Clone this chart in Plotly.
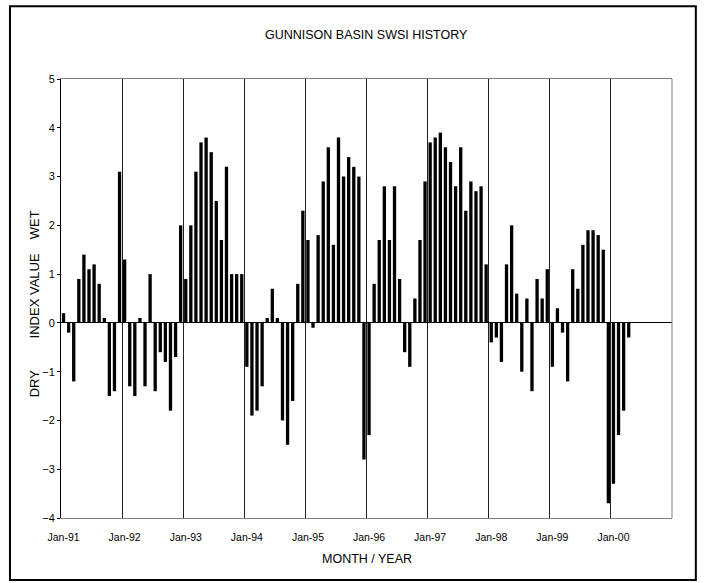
import plotly.graph_objects as go

# Gunnison Basin SWSI, monthly values Jan-91 .. Apr-00
swsi_1991 = [0.2, -0.2, -1.2, 0.9, 1.4, 1.1, 1.2, 0.8, 0.1, -1.5, -1.4, 3.1]
swsi_1992 = [1.3, -1.3, -1.5, 0.1, -1.3, 1.0, -1.4, -0.6, -0.8, -1.8, -0.7, 2.0]
swsi_1993 = [0.9, 2.0, 3.1, 3.7, 3.8, 3.5, 2.5, 1.7, 3.2, 1.0, 1.0, 1.0]
swsi_1994 = [-0.9, -1.9, -1.8, -1.3, 0.1, 0.7, 0.1, -2.0, -2.5, -1.6, 0.8, 2.3]
swsi_1995 = [1.7, -0.1, 1.8, 2.9, 3.6, 1.6, 3.8, 3.0, 3.4, 3.2, 3.0, -2.8]
swsi_1996 = [-2.3, 0.8, 1.7, 2.8, 1.7, 2.8, 0.9, -0.6, -0.9, 0.5, 1.7, 2.9]
swsi_1997 = [3.7, 3.8, 3.9, 3.6, 3.3, 2.8, 3.6, 2.3, 2.9, 2.7, 2.8, 1.2]
swsi_1998 = [-0.4, -0.3, -0.8, 1.2, 2.0, 0.6, -1.0, 0.5, -1.4, 0.9, 0.5, 1.1]
swsi_1999 = [-0.9, 0.3, -0.2, -1.2, 1.1, 0.7, 1.6, 1.9, 1.9, 1.8, 1.5, -3.7]
swsi_2000 = [-3.3, -2.3, -1.8, -0.3]

year_labels = ["Jan-91", "Jan-92", "Jan-93", "Jan-94", "Jan-95",
               "Jan-96", "Jan-97", "Jan-98", "Jan-99", "Jan-00"]
y_ticks = [-4, -3, -2, -1, 0, 1, 2, 3, 4, 5]

values = (swsi_1991 + swsi_1992 + swsi_1993 + swsi_1994 + swsi_1995
          + swsi_1996 + swsi_1997 + swsi_1998 + swsi_1999 + swsi_2000)
months = list(range(len(values)))
n_slots = 12 * len(year_labels)

FONT = "Liberation Sans, Arial, sans-serif"

fig = go.Figure()
fig.add_trace(go.Bar(
    x=months,
    y=values,
    marker=dict(color="black", line=dict(width=0)),
    showlegend=False,
))

fig.update_layout(
    width=706,
    height=583,
    margin=dict(l=61, r=34, t=79, b=65),
    plot_bgcolor="white",
    paper_bgcolor="white",
    bargap=0.35,
    font=dict(family=FONT, size=11, color="black"),
)

fig.update_xaxes(
    range=[-0.5, n_slots - 0.5],
    tickmode="array",
    tickvals=[12 * i for i in range(len(year_labels))],
    ticktext=year_labels,
    ticks="",
    ticklabelstandoff=9,
    showgrid=False,
    zeroline=False,
    showline=True,
    linecolor="#808080",
    mirror=True,
    tickfont=dict(family=FONT, size=10.5),
    minor=dict(tickmode="linear", tick0=-0.5, dtick=12, showgrid=True,
               gridcolor="#202020", gridwidth=1, ticks=""),
)

fig.update_yaxes(
    range=[-4, 5],
    tickmode="array",
    tickvals=y_ticks,
    ticks="outside",
    ticklen=3,
    tickcolor="black",
    showgrid=False,
    zeroline=True,
    zerolinecolor="black",
    zerolinewidth=1,
    showline=True,
    linecolor="black",
    tickfont=dict(family=FONT, size=11),
)

# right border of plot area (gray), outer chart frame
fig.add_shape(type="line", xref="paper", yref="paper", x0=1, x1=1, y0=0, y1=1,
              line=dict(color="#808080", width=1))
fig.add_shape(type="rect", xref="paper", yref="paper",
              x0=-0.0835, x1=1.039, y0=-0.141, y1=1.166,
              line=dict(color="black", width=2))

fig.add_annotation(text="GUNNISON BASIN SWSI HISTORY", xref="paper", yref="paper",
                   x=0.5, y=1.10, showarrow=False, xanchor="center", yanchor="middle",
                   font=dict(family=FONT, size=12.5))

fig.add_annotation(text="MONTH / YEAR", xref="paper", yref="paper",
                   x=0.5, y=-0.0934, showarrow=False, xanchor="center", yanchor="middle",
                   font=dict(family=FONT, size=12.5))

# y-axis title in three parts
for label, ypos in [("WET", 0.667), ("INDEX VALUE", 0.505), ("DRY", 0.307)]:
    fig.add_annotation(text=label, xref="paper", yref="paper", x=-0.044, y=ypos,
                       textangle=-90, showarrow=False, xanchor="center", yanchor="middle",
                       font=dict(family=FONT, size=13))

# page body has a default 8px margin; drop it so the chart sits at the window origin
fig.write_html("out.html", config={"displayModeBar": False},
               post_script="document.body.style.margin='0px';")
